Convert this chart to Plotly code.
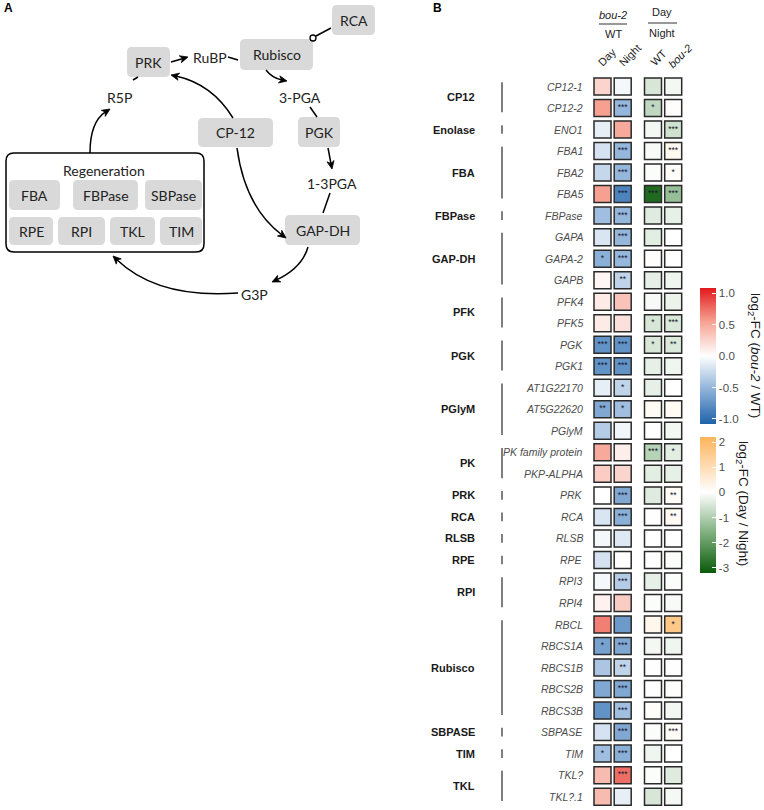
import plotly.graph_objects as go

W, H = 764, 810

# ---------------- data ----------------
genes = ["CP12-1", "CP12-2", "ENO1", "FBA1", "FBA2", "FBA5", "FBPase", "GAPA", "GAPA-2", "GAPB",
         "PFK4", "PFK5", "PGK", "PGK1", "AT1G22170", "AT5G22620", "PGlyM", "PK family protein",
         "PKP-ALPHA", "PRK", "RCA", "RLSB", "RPE", "RPI3", "RPI4", "RBCL", "RBCS1A", "RBCS1B",
         "RBCS2B", "RBCS3B", "SBPASE", "TIM", "TKL?", "TKL?.1"]
groups = ["CP12", "CP12", "Enolase", "FBA", "FBA", "FBA", "FBPase", "GAP-DH", "GAP-DH", "GAP-DH",
          "PFK", "PFK", "PGK", "PGK", "PGlyM", "PGlyM", "PGlyM", "PK", "PK", "PRK", "RCA", "RLSB",
          "RPE", "RPI", "RPI", "Rubisco", "Rubisco", "Rubisco", "Rubisco", "Rubisco", "SBPASE",
          "TIM", "TKL", "TKL"]

# log2 FC (bou-2 / WT)
fc_day = [0.25, 0.55, -0.12, -0.2, -0.28, 0.55, -0.45, -0.18, -0.55, 0.05, 0.12, 0.12, -0.75, -0.75,
          -0.12, -0.6, -0.35, 0.5, 0.3, 0.0, -0.18, -0.05, -0.2, -0.05, 0.08, 0.68, -0.65, -0.4,
          -0.6, -0.75, -0.2, -0.45, 0.4, 0.4]
fc_night = [-0.05, -0.5, 0.5, -0.5, -0.5, -0.85, -0.5, -0.5, -0.5, -0.3, 0.35, 0.18, -0.75, -0.75,
            -0.3, -0.45, -0.06, 0.1, 0.25, -0.6, -0.55, -0.15, 0.0, -0.35, 0.3, -0.7, -0.6, -0.3,
            -0.6, -0.45, -0.6, -0.55, 0.75, -0.12]
# log2 FC (Day / Night)
fc_wt = [-0.5, -0.8, -0.15, -0.1, -0.05, -2.9, -0.4, -0.35, 0.05, -0.3, -0.1, -0.5, -0.5, -0.3,
         -0.3, 0.15, 0.02, -0.9, -0.35, -0.4, 0.02, 0.0, 0.0, -0.3, -0.05, 0.25, -0.15, 0.02,
         0.02, 0.08, -0.05, -0.2, -0.05, -0.5]
fc_bou2 = [-0.15, 0.05, -0.6, 0.2, 0.08, -1.3, -0.3, 0.0, 0.0, -0.2, -0.25, -0.45, -0.45, -0.2,
           0.0, 0.15, -0.15, -0.35, -0.3, 0.12, 0.15, 0.0, -0.05, -0.05, -0.1, 1.6, -0.2, 0.02,
           0.05, -0.15, 0.12, 0.0, -0.4, -0.12]

sig_day = ["", "", "", "", "", "", "", "", "*", "", "", "", "***", "***", "", "**", "", "", "", "",
           "", "", "", "", "", "", "*", "", "", "", "", "*", "", ""]
sig_night = ["", "***", "", "***", "***", "***", "***", "***", "***", "**", "", "", "***", "***", "*",
             "*", "", "", "", "***", "***", "", "", "***", "", "", "***", "**", "***", "***", "***",
             "***", "***", ""]
sig_wt = ["", "*", "", "", "", "***", "", "", "", "", "", "*", "*", "", "", "", "", "***", "", "",
          "", "", "", "", "", "", "", "", "", "", "", "", "", ""]
sig_bou2 = ["", "", "***", "***", "*", "***", "", "", "", "", "", "***", "**", "", "", "", "", "*",
            "", "**", "**", "", "", "", "", "*", "", "", "", "", "***", "", "", ""]

col_labels = ["Day", "Night", "WT", "<i>bou-2</i>"]
cb1_ticks = [-1.0, -0.5, 0.0, 0.5, 1.0]
cb2_ticks = [-3, -2, -1, 0, 1, 2]

# ---------------- layout helpers ----------------
FONT = "Liberation Sans, Arial, sans-serif"
n = len(genes)
ROW0, ROWP = 86.5, 21.52          # pixel y of first row, row pitch
COL0, COLP = 602.5, 20.2          # pixel x of first column, column pitch
col_pos = [0, 1, 2.5, 3.5]


def px(x):
    return x / W


def py(y):
    return 1 - y / H


fig = go.Figure()

rdbu = [[0.0, "#1f63aa"], [0.25, "#8db1d8"], [0.5, "#ffffff"], [0.75, "#f6a393"], [1.0, "#e2191c"]]
lo, hi = -3.2, 2.2
zpos = (0 - lo) / (hi - lo)
grog = [[0.0, "#0a5a0a"], [(-1.6 - lo) / (hi - lo), "#7fb07f"], [zpos, "#ffffff"], [1.0, "#fdb45c"]]

rows = list(range(n))
common_marker = dict(symbol="square", size=17, line=dict(color="#2a2a2a", width=1.5))
STAR_FONT = dict(size=8.5, color="#15152e", family=FONT)

fig.add_trace(go.Scatter(
    x=[col_pos[0]] * n + [col_pos[1]] * n, y=rows + rows, mode="markers+text",
    text=sig_day + sig_night, textposition="middle center", textfont=STAR_FONT,
    marker=dict(**common_marker, color=fc_day + fc_night, colorscale=rdbu, cmin=-1.08, cmax=1.08,
                colorbar=dict(x=px(700), xanchor="left", y=py(288), yanchor="top",
                              lenmode="pixels", len=136, thickness=16, xpad=0, ypad=0,
                              outlinewidth=0, ticks="inside", ticklen=4, tickcolor="white",
                              tickvals=cb1_ticks, ticktext=["-1.0", "-0.5", "0.0", "0.5", "1.0"],
                              tickfont=dict(size=11.5, color="#4d4d4d", family=FONT))),
    hoverinfo="skip", showlegend=False, cliponaxis=False))

fig.add_trace(go.Scatter(
    x=[col_pos[2]] * n + [col_pos[3]] * n, y=rows + rows, mode="markers+text",
    text=sig_wt + sig_bou2, textposition="middle center", textfont=STAR_FONT,
    marker=dict(**common_marker, color=fc_wt + fc_bou2, colorscale=grog, cmin=lo, cmax=hi,
                colorbar=dict(x=px(700), xanchor="left", y=py(437), yanchor="top",
                              lenmode="pixels", len=136, thickness=16, xpad=0, ypad=0,
                              outlinewidth=0, ticks="inside", ticklen=4, tickcolor="white",
                              tickvals=cb2_ticks, ticktext=["-3", "-2", "-1", "0", "1", "2"],
                              tickfont=dict(size=11.5, color="#4d4d4d", family=FONT))),
    hoverinfo="skip", showlegend=False, cliponaxis=False))

# dummy trace for panel A axes
fig.add_trace(go.Scatter(x=[None], y=[None], xaxis="x2", yaxis="y2", showlegend=False))

ann = []
shapes = []

# gene labels
for i, g in enumerate(genes):
    ann.append(dict(x=px(585), xref="paper", y=i, yref="y", text=f"<i>{g}</i>", showarrow=False,
                    xanchor="right", yanchor="middle",
                    font=dict(size=10.5, color="#4d4d4d", family=FONT)))

# group labels and bars
order = []
for g in groups:
    if g not in order:
        order.append(g)
for g in order:
    idx = [i for i, gg in enumerate(groups) if gg == g]
    mid = (idx[0] + idx[-1]) / 2
    ann.append(dict(x=px(477), xref="paper", y=mid, yref="y", text=f"<b>{g}</b>", showarrow=False,
                    xanchor="right", yanchor="middle",
                    font=dict(size=11, color="#1a1a1a", family=FONT)))
    shapes.append(dict(type="line", xref="paper", yref="y", x0=px(502), x1=px(502),
                       y0=idx[0] - 0.2, y1=idx[-1] + 0.2, line=dict(color="#555555", width=1.5)))


def ptext(x, y, text, font, **kw):
    d = dict(x=px(x), y=py(y), xref="paper", yref="paper", text=text, showarrow=False,
             xanchor="center", yanchor="middle", font=font)
    d.update(kw)
    ann.append(d)


# column headers
hdr_font = dict(size=11, color="#222222", family=FONT)
ptext(613, 15, "<i>bou-2</i>", hdr_font)
ptext(613, 34, "WT", hdr_font)
ptext(662, 12, "Day", hdr_font)
ptext(662, 33, "Night", hdr_font)
shapes += [
    dict(type="line", xref="paper", yref="paper", x0=px(599), x1=px(627), y0=py(24), y1=py(24),
         line=dict(color="#333333", width=1)),
    dict(type="line", xref="paper", yref="paper", x0=px(648), x1=px(677), y0=py(23), y1=py(23),
         line=dict(color="#333333", width=1)),
]
rot_centers = [(607, 57), (630, 55), (658, 58), (680, 56)]
for lab, (cx, cy) in zip(col_labels, rot_centers):
    ptext(cx, cy, lab, hdr_font, textangle=-45)

# colorbar titles
ptext(754, 355, "log<sub>2</sub>-FC (<i>bou-2</i> / WT)",
      dict(size=13.5, color="#1a1a1a", family=FONT), textangle=90)
ptext(743, 503, "log<sub>2</sub>-FC (Day / Night)",
      dict(size=13.5, color="#1a1a1a", family=FONT), textangle=90)

# panel letters
ptext(8, 8, "<b>A</b>", dict(size=12, color="black", family=FONT))
ptext(437, 8, "<b>B</b>", dict(size=12, color="black", family=FONT))

# ---------------- panel A diagram (pixel axes x2/y2) ----------------
DFONT = dict(size=14, color="#222222", family="Lato, Open Sans, sans-serif")


def rrect(x0, y0, x1, y1, r):
    return (f"M{x0+r},{y0} L{x1-r},{y0} Q{x1},{y0} {x1},{y0+r} L{x1},{y1-r} Q{x1},{y1} {x1-r},{y1} "
            f"L{x0+r},{y1} Q{x0},{y1} {x0},{y1-r} L{x0},{y0+r} Q{x0},{y0} {x0+r},{y0} Z")


# outer regeneration box
shapes.append(dict(type="path", xref="x2", yref="y2", path=rrect(6, 153, 204, 252, 8),
                   fillcolor="white", line=dict(color="black", width=1.5)))
boxes = [("RCA", 332, 5, 375, 35), ("Rubisco", 240, 39, 313, 70), ("PRK", 127, 47, 170, 77),
         ("CP-12", 198, 118, 273, 147), ("PGK", 298, 117, 340, 147), ("GAP-DH", 285, 215, 360, 245),
         ("FBA", 9, 180, 60, 210), ("FBPase", 73, 180, 138, 210), ("SBPase", 145, 180, 202, 210),
         ("RPE", 9, 217, 53, 245), ("RPI", 58, 217, 105, 245), ("TKL", 110, 217, 155, 245),
         ("TIM", 160, 217, 202, 245)]
for lab, x0, y0, x1, y1 in boxes:
    shapes.append(dict(type="path", xref="x2", yref="y2", path=rrect(x0, y0, x1, y1, 5),
                       fillcolor="#d9d9d9", line=dict(width=0)))
    ann.append(dict(x=(x0 + x1) / 2, y=(y0 + y1) / 2, xref="x2", yref="y2", text=lab,
                    showarrow=False, xanchor="center", yanchor="middle", font=DFONT))

for lab, x, y in [("RuBP", 210, 57), ("3-PGA", 300, 97), ("1-3PGA", 332, 183), ("G3P", 254, 294),
                  ("R5P", 119, 97), ("Regeneration", 104, 170)]:
    ann.append(dict(x=x, y=y, xref="x2", yref="y2", text=lab, showarrow=False,
                    xanchor="center", yanchor="middle", font=DFONT))

LINE = dict(color="black", width=1.5)
for (x0, y0, x1, y1) in [(228, 57, 238, 60), (310, 107, 317, 117), (330, 193, 323, 213),
                         (133, 80, 138, 77), (331, 28, 316, 36)]:
    shapes.append(dict(type="line", xref="x2", yref="y2", x0=x0, y0=y0, x1=x1, y1=y1, line=LINE))
shapes.append(dict(type="circle", xref="x2", yref="y2", x0=310, y0=35, x1=316, y1=41,
                   fillcolor="white", line=dict(color="black", width=1.3)))


def head(tip, ux, uy, L=8.0, w=3.6):
    """filled stealth arrow head with tip at `tip`, pointing along unit vector (ux, uy)"""
    bx, by = tip[0] - L * ux, tip[1] - L * uy
    nx, ny = -uy, ux
    mx, my = tip[0] - 0.7 * L * ux, tip[1] - 0.7 * L * uy
    p = (f"M{tip[0]:.2f},{tip[1]:.2f} L{bx + w * nx:.2f},{by + w * ny:.2f} "
         f"L{mx:.2f},{my:.2f} L{bx - w * nx:.2f},{by - w * ny:.2f} Z")
    shapes.append(dict(type="path", xref="x2", yref="y2", path=p, fillcolor="black",
                       line=dict(color="black", width=0.8)))


def straight_arrow(tail, tip):
    dx, dy = tip[0] - tail[0], tip[1] - tail[1]
    d = (dx * dx + dy * dy) ** 0.5
    ux, uy = dx / d, dy / d
    shapes.append(dict(type="line", xref="x2", yref="y2", x0=tail[0], y0=tail[1],
                       x1=tip[0] - 5 * ux, y1=tip[1] - 5 * uy, line=LINE))
    head(tip, ux, uy)


def curve_arrow(p0, c, p2):
    dx, dy = p2[0] - c[0], p2[1] - c[1]
    d = (dx * dx + dy * dy) ** 0.5
    ux, uy = dx / d, dy / d
    end = (p2[0] - 5 * ux, p2[1] - 5 * uy)
    shapes.append(dict(type="path", xref="x2", yref="y2",
                       path=f"M{p0[0]},{p0[1]} Q{c[0]},{c[1]} {end[0]:.2f},{end[1]:.2f}", line=LINE))
    head(p2, ux, uy)


straight_arrow((171, 62), (188, 57))
straight_arrow((328, 148), (332, 169))
curve_arrow((266, 70), (272, 78), (287, 81))
curve_arrow((308, 247), (302, 268), (272, 282))
curve_arrow((238, 293), (158, 299), (113, 256))
curve_arrow((90, 153), (90, 122), (110, 109))
curve_arrow((233, 118), (212, 84), (171, 75))
curve_arrow((237, 148), (245, 207), (286, 238))

fig.update_layout(
    width=W, height=H, margin=dict(l=0, r=0, t=0, b=0),
    paper_bgcolor="white", plot_bgcolor="white",
    xaxis=dict(domain=[px(590), px(690)], range=[(590 - COL0) / COLP, (690 - COL0) / COLP],
               visible=False, fixedrange=True),
    yaxis=dict(domain=[0, 1], range=[(H - ROW0) / ROWP, -ROW0 / ROWP], visible=False, fixedrange=True),
    xaxis2=dict(domain=[0, px(380)], range=[0, 380], visible=False, anchor="y2", fixedrange=True),
    yaxis2=dict(domain=[py(300), 1], range=[300, 0], visible=False, anchor="x2", fixedrange=True),
    annotations=ann, shapes=shapes,
)

fig.write_html("out.html", config={"displayModeBar": False},
               post_script="document.body.style.margin='0px';")
